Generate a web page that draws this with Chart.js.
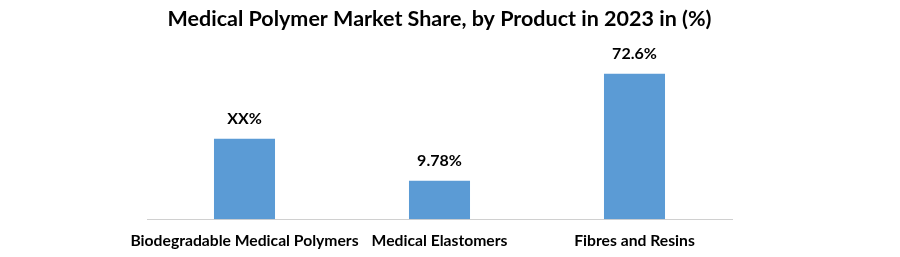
<!DOCTYPE html>
<html>
<head>
<meta charset="utf-8">
<script src="https://cdn.jsdelivr.net/npm/chart.js@4/dist/chart.umd.min.js"></script>
<style>
html,body{margin:0;padding:0;background:#fff;}
#wrap{width:900px;height:257px;position:relative;}
</style>
</head>
<body>
<div id="wrap"><canvas id="c" width="900" height="257"></canvas></div>
<script>
const titleText = "Medical Polymer Market Share, by Product in 2023 in (%)";
const categories = ["Biodegradable Medical Polymers", "Medical Elastomers", "Fibres and Resins"];
const shareValues = [34.5, 9.78, 72.6];
const valueLabels = ["XX%", "9.78%", "72.6%"];
const yMin = -12.8;
const yMax = 92.6;

const valueLabelPlugin = {
  id: 'valueLabels',
  afterDatasetsDraw(chart) {
    const ctx = chart.ctx;
    const meta = chart.getDatasetMeta(0);
    ctx.save();
    ctx.font = 'bold 16px Lato, "Open Sans", sans-serif';
    ctx.fillStyle = '#000';
    ctx.textAlign = 'center';
    ctx.textBaseline = 'alphabetic';
    meta.data.forEach((bar, i) => {
      ctx.fillText(valueLabels[i], bar.x, bar.y - 15);
    });
    ctx.restore();
  }
};

new Chart(document.getElementById('c'), {
  type: 'bar',
  data: {
    labels: categories,
    datasets: [{
      data: shareValues,
      base: yMin,
      backgroundColor: '#5b9bd5',
      barPercentage: 0.313,
      categoryPercentage: 1.0
    }]
  },
  options: {
    responsive: false,
    animation: false,
    devicePixelRatio: 1,
    layout: { padding: { left: 147, right: 168, top: 0, bottom: -5 } },
    plugins: {
      legend: { display: false },
      tooltip: { enabled: false },
      title: {
        display: true,
        text: titleText,
        color: '#000',
        font: { family: 'Lato, "Open Sans", sans-serif', size: 21.5, weight: 'bold' },
        padding: { top: 6, bottom: 8 }
      }
    },
    scales: {
      x: {
        grid: { display: false, drawTicks: false },
        border: { display: true, color: '#d0d0d0', dash: [2, 1] },
        ticks: {
          color: '#000',
          padding: 12,
          font: { family: 'Lato, "Open Sans", sans-serif', size: 15.7, weight: 'bold' },
          maxRotation: 0, autoSkip: false
        }
      },
      y: {
        display: false,
        min: yMin,
        max: yMax
      }
    }
  },
  plugins: [valueLabelPlugin]
});
</script>
</body>
</html>
